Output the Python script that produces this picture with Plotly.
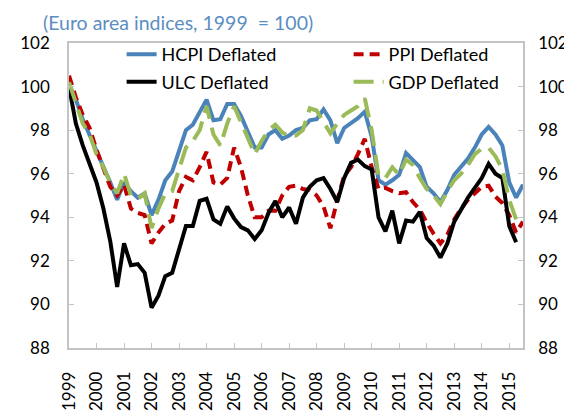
import plotly.graph_objects as go

# Quarterly observations, 1999Q1 .. 2015Q3
quarters = [1999 + i / 4 for i in range(67)]

hcpi = [100.1, 99.4, 98.5, 97.8, 97.1, 96.3, 95.6, 94.8, 95.6, 95.2,
        94.9, 95.1, 94.1, 94.8, 95.7, 96.1, 97.0, 98.0, 98.25, 98.8,
        99.4, 98.45, 98.5, 99.2, 99.2, 98.65, 97.9, 97.2, 97.2, 97.8,
        98.0, 97.6, 97.75, 98.0, 98.1, 98.45, 98.5, 98.95, 98.45, 97.4,
        98.1, 98.3, 98.55, 98.85, 97.7, 95.7, 95.5, 95.7, 95.95, 96.95,
        96.6, 96.3, 95.4, 95.1, 94.7, 95.25, 95.95, 96.35, 96.7, 97.2,
        97.8, 98.15, 97.8, 97.3, 95.6, 94.9, 95.5]

ppi = [100.5, 99.5, 98.7, 98.1, 97.1, 96.2, 95.4, 95.0, 95.5, 94.4,
       94.2, 94.1, 92.8, 93.3, 93.7, 93.85, 95.2, 95.85, 95.7, 96.3,
       97.0, 95.6, 95.5, 95.8, 97.2, 96.3, 95.0, 94.0, 94.0, 94.3,
       94.3, 95.0, 95.4, 95.45, 95.3, 95.25, 95.0, 94.5, 93.5, 94.8,
       95.9, 96.3, 96.9, 97.6, 96.3, 95.3, 95.35, 95.2, 95.1, 95.15,
       94.7, 94.35, 93.75, 93.25, 92.8, 93.2, 93.9, 94.4, 94.8, 95.1,
       95.4, 95.45, 94.95, 94.65, 94.1, 93.3, 93.8]

ulc = [100.0, 98.3, 97.3, 96.5, 95.6, 94.4, 92.9, 90.8, 92.8, 91.8,
       91.85, 91.45, 89.85, 90.4, 91.3, 91.45, 92.6, 93.6, 93.6, 94.75,
       94.85, 93.9, 93.7, 94.5, 93.95, 93.55, 93.4, 93.0, 93.4, 94.2,
       94.75, 94.0, 94.45, 93.7, 94.9, 95.4, 95.7, 95.8, 95.3, 94.7,
       95.8, 96.5, 96.65, 96.35, 96.2, 94.0, 93.35, 94.3, 92.8, 93.85,
       93.8, 94.25, 93.05, 92.7, 92.15, 92.8, 93.8, 94.35, 94.9, 95.35,
       95.8, 96.45, 96.0, 95.8, 93.6, 92.85]

gdp = [100.2, 99.2, 98.3, 97.8, 96.9, 96.3, 95.6, 95.1, 96.0, 95.0,
       94.85, 95.1, 93.5, 94.4, 95.1, 95.2, 96.2, 97.2, 97.5, 98.0,
       99.1, 97.8, 97.3, 98.3, 99.1, 98.4, 97.7, 96.9, 97.5, 98.0,
       98.25, 97.9, 97.7, 97.75, 98.0, 99.0, 98.9, 98.4, 97.85, 98.3,
       98.7, 98.9, 99.1, 99.45, 98.0, 95.9, 95.8, 96.3, 95.95, 96.65,
       96.4, 95.8, 95.3, 95.0, 94.6, 95.2, 95.7, 96.0, 96.4, 96.9,
       97.15, 97.2, 96.8, 96.2, 94.8, 93.9]

year_ticks = list(range(1999, 2016))
year_labels = [str(y) for y in year_ticks]
y_ticks = [88, 90, 92, 94, 96, 98, 100, 102]

FONT = "Lato"
BLUE = "#4A82BA"
RED = "#C00000"
GREEN = "#9BBB59"
AXIS = "#C4C4C4"

fig = go.Figure()
fig.add_trace(go.Scatter(x=quarters[:len(hcpi)], y=hcpi, name="HCPI Deflated", mode="lines",
                         line=dict(color=BLUE, width=4), legend="legend"))
fig.add_trace(go.Scatter(x=quarters[:len(ppi)], y=ppi, name="PPI Deflated", mode="lines",
                         line=dict(color=RED, width=4, dash="10px,6px"), legend="legend2"))
fig.add_trace(go.Scatter(x=quarters[:len(ulc)], y=ulc, name="ULC Deflated", mode="lines",
                         line=dict(color="black", width=4), legend="legend3"))
fig.add_trace(go.Scatter(x=quarters[:len(gdp)], y=gdp, name="GDP Deflated", mode="lines",
                         line=dict(color=GREEN, width=4, dash="20px,9px"), legend="legend4",
                         yaxis="y2"))

L, R, T, B = 59, 47, 35, 60
PW = 572 - L - R
PH = 415 - T - B


def px_x(x):
    return (x - L) / PW


def px_y(y):
    return (415 - B - y) / PH


leg_common = dict(xanchor="left", yanchor="middle", bgcolor="rgba(0,0,0,0)",
                  font=dict(family=FONT, size=18, color="black"))

fig.update_layout(
    width=572, height=415,
    margin=dict(l=L, r=R, t=T, b=B),
    paper_bgcolor="white", plot_bgcolor="white",
    font=dict(family=FONT, color="black"),
    showlegend=True,
    legend=dict(x=px_x(113), y=px_y(47), **leg_common),
    legend2=dict(x=px_x(346), y=px_y(47), **leg_common),
    legend3=dict(x=px_x(113), y=px_y(76), **leg_common),
    legend4=dict(x=px_x(346), y=px_y(76), **leg_common),
    xaxis=dict(range=[1999, 2015.5], tickmode="array", tickvals=year_ticks, ticktext=year_labels,
               tickangle=-90, ticks="inside", ticklen=5, tickcolor=AXIS, tickwidth=1,
               showline=True, linecolor=AXIS, linewidth=1.5, mirror=True,
               showgrid=False, zeroline=False, tickfont=dict(family=FONT, size=17, color="black"),
               ticklabelstandoff=15),
    yaxis=dict(range=[88, 102], tickmode="array", tickvals=y_ticks, ticks="inside", ticklen=5,
               tickcolor=AXIS, showline=True, linecolor=AXIS, linewidth=1.5, mirror=True,
               showgrid=False, zeroline=False, tickfont=dict(family=FONT, size=17, color="black"),
               ticklabelstandoff=14),
    yaxis2=dict(range=[88, 102], overlaying="y", side="right", tickmode="array", tickvals=y_ticks,
                ticks="inside", ticklen=5, tickcolor=AXIS, showline=True, linecolor=AXIS,
                linewidth=1.5, showgrid=False, zeroline=False,
                tickfont=dict(family=FONT, size=17, color="black"), ticklabelstandoff=10),
    annotations=[dict(text="(Euro area indices, 1999  = 100)", xref="paper", yref="paper",
                      x=px_x(30), y=px_y(14), xanchor="left", yanchor="middle", showarrow=False,
                      font=dict(family=FONT, size=19.5, color="#5B8EC2"))],
)

fig.write_html("out.html")
